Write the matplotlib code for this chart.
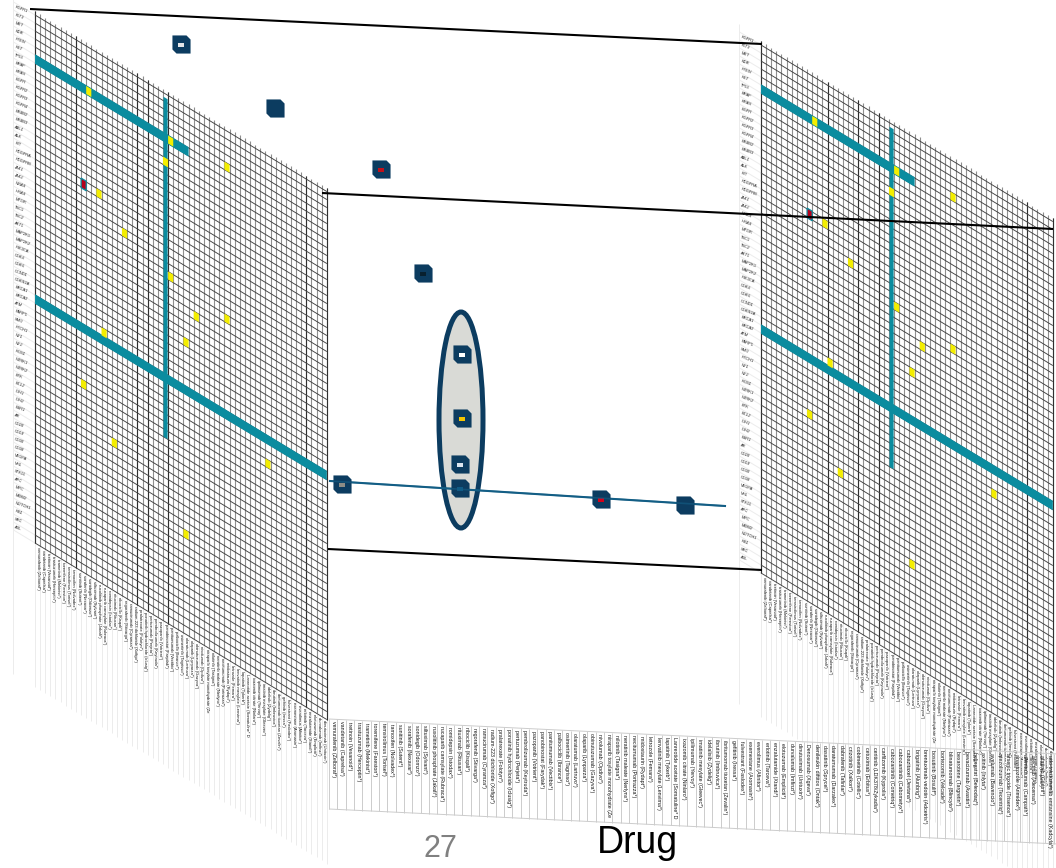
import matplotlib
matplotlib.use('Agg')
import matplotlib.pyplot as plt
from matplotlib.collections import LineCollection
from matplotlib.patches import Rectangle, Ellipse
from matplotlib.transforms import Affine2D

plt.rcParams['font.family'] = ['Liberation Sans', 'DejaVu Sans']

# drug names, as they stand on the front sheet from left to right
drugs = ['vemurafenib (Zelboraf*)', 'vandetanib (Caprelsa*)', 'tretinoin (Vesanoid*)', 'trastuzumab (Herceptin*)',
         'trametinib (Mekinist*)', 'toremifene (Fareston*)', 'temsirolimus (Torisel*)', 'tamoxifen (Nolvadex*)',
         'sunitinib (Sutent*)', 'sorafenib (Nexavar*)', 'sonidegib (Odomzo*)', 'siltuximab (Sylvant*)',
         'ruxolitinib phosphate (Jakafi*)', 'rucaparib camsylate (Rubraca*)', 'romidepsin (Istodax*)',
         'rituximab (Rituxan*)', 'ribociclib (Kisqali*)', 'regorafenib (Stivarga*)', 'ramucirumab (Cyramza*)',
         'radium-223 dichloride (Xofigo*)', 'pralatrexate (Folotyn*)', 'ponatinib hydrochloride (Iclusig*)',
         'pertuzumab (Perjeta*)', 'pembrolizumab (Keytruda*)', 'pazopanib (Votrient*)', 'panobinostat (Farydak*)',
         'panitumumab (Vectibix*)', 'palbociclib (Ibrance*)', 'osimertinib (Tagrisso*)', 'olaratumab (Lartruvo*)',
         'olaparib (Lynparza*)', 'obinutuzumab (Gazyva*)', 'nivolumab (Opdivo*)',
         'niraparib tosylate monohydrate (Ze', 'nilotinib (Tasigna*)', 'neratinib maleate (Nerlynx*)',
         'necitumumab (Portrazza*)', 'midostaurin (Rydapt*)', 'letrozole (Femara*)', 'lenvatinib mesylate (Lenvima*)',
         'lapatinib (Tykerb*)', 'Lanreotide acetate (Somatuline* D', 'ixazomib citrate (Ninlaro*)',
         'ipilimumab (Yervoy*)', 'imatinib mesylate (Gleevec*)', 'idelalisib (Zydelig*)', 'ibrutinib (Imbruvica*)',
         'ibritumomab tiuxetan (Zevalin*)', 'gefitinib (Iressa*)', 'fulvestrant (Faslodex*)', 'exemestane (Aromasin*)',
         'everolimus (Afinitor*)', 'erlotinib (Tarceva*)', 'enzalutamide (Xtandi*)', 'elotuzumab (Empliciti*)',
         'durvalumab (Imfinzi*)', 'dinutuximab (Unituxin*)', 'Denosumab (Xgeva*)', 'denileukin diftitox (Ontak*)',
         'dasatinib (Sprycel*)', 'daratumumab (Darzalex*)', 'dabrafenib (Tafinlar*)', 'crizotinib (Xalkori*)',
         'cobimetinib (Cotellic*)', 'cetuximab (Erbitux*)', 'ceritinib (LDK378/Zykadia*)', 'carfilzomib (Kyprolis*)',
         'cabozantinib (Cometriq*)', 'cabozantinib (Cabometyx*)', 'cabazitaxel (Jevtana*)', 'brigatinib (Alunbrig*)',
         'brentuximab vedotin (Adcetris*)', 'bosutinib (Bosulif*)', 'bortezomib (Velcade*)', 'blinatumomab (Blincyto*)',
         'bexarotene (Targretin*)', 'bevacizumab (Avastin*)', 'belinostat (Beleodaq*)', 'axitinib (Inlyta*)',
         'avelumab (Bavencio*)', 'atezolizumab (Tecentriq*)', 'arsenic trioxide (Trisenox*)', 'anastrozole (Arimidex*)',
         'alemtuzumab (Campath*)', 'alectinib (Alecensa*)', 'afatinib (Gilotrif*)',
         'ado-trastuzumab emtansine (Kadcyla*)', 'abiraterone acetate (Zytiga*)']

# row labels of the matrix, too small in the picture to read for sure
targets = ['FGFR1', 'FLT3', 'MET', 'KDR', 'PTEN', 'RET', 'TP53', 'BRAF', 'KRAS', 'EGFR', 'FGFR2', 'FGFR3', 'FGFR4',
           'ERBB2', 'ERBB3', 'ABL1', 'ALK', 'KIT', 'PDGFRA', 'PDGFRB', 'JAK1', 'JAK2', 'NRAS', 'HRAS', 'MTOR', 'TSC1',
           'TSC2', 'AKT1', 'MAP2K1', 'MAP2K2', 'PIK3CA', 'CDK4', 'CDK6', 'CCND1', 'CDKN2A', 'BRCA1', 'BRCA2', 'ATM',
           'PARP1', 'SMO', 'PTCH1', 'NF1', 'NF2', 'ROS1', 'NTRK1', 'NTRK2', 'BTK', 'BCL2', 'IDH1', 'IDH2', 'ESR1', 'AR',
           'CD20', 'CD19', 'CD30', 'CD38', 'VEGFA', 'VHL', 'STK11', 'APC', 'MYC', 'MDM2', 'NOTCH1', 'RB1', 'SRC', 'AXL']

# matrix cells that are filled (row, column)
yellow_rows = [5, 8, 5, 4, 17, 20, 22, 25, 23, 29, 34, 42, 47, 38, 53]
yellow_cols = [10, 25, 26, 37, 12, 17, 26, 31, 37, 29, 13, 9, 15, 45, 29]
red_rows = [17]
red_cols = [9]

# highlighted rows and column of the matrix: index, first, last
band_rows = [5, 35]
band_row_start = [0, 0]
band_row_end = [30, 57]
band_cols = [25]
band_col_start = [0.5]
band_col_end = [43]

# column lines that come out dark in each sheet
dark_cols_left = [0, 8, 20, 22, 26, 53, 57]
dark_cols_right = [0, 13, 19, 23, 52, 57]

# nodes in the white middle of the picture
node_x = [181, 275, 381, 423, 462, 462, 460, 460, 342, 601, 685]
node_y = [44, 108, 169, 273, 354, 418, 464, 488, 484, 499, 505]
node_inner = ['#e4e6e8', '#0c3c60', '#c0101a', '#08202f', '#ffffff', '#f5c400', '#dce6f0', '#0f5a85', '#8c8c86',
              '#d4001a', '#0c3c60']

# lines between the two sheets
link_x = [[30, 762], [322, 1053], [328, 762]]
link_y = [[9, 44], [193, 229], [549, 570]]
path_x = [330, 725]
path_y = [481, 506]

n_cols = 57
n_rows = len(targets)
DX = 5.12
DY = 8.0
SLOPE = 0.605

NAVY = '#0c3c60'
TEAL = '#0b8c9f'

fig = plt.figure(figsize=(10.56, 8.68), dpi=100)
ax = fig.add_axes([0, 0, 1, 1])
ax.set_xlim(0, 1056)
ax.set_ylim(868, 0)
ax.axis('off')


def draw_sheet(x0, y0, dark_cols):
    # cell coordinates (col, row) to pixels, sheared
    tr = Affine2D.from_values(DX, DX * SLOPE, 0, DY, x0, y0) + ax.transData

    # faint lines: column drops, row label rules
    drops = [[(c, n_rows), (c, n_rows + 18)] for c in range(n_cols + 1)]
    drops += [[(-4.2, r), (0, r)] for r in range(n_rows + 1)]
    drops += [[(-4.2, -1), (-4.2, n_rows + 18)]]
    ax.add_collection(LineCollection(drops, colors='#ececec', linewidths=0.7, transform=tr, zorder=1))

    # grid: columns come out grey, with some dark ones, rows dark
    cols = [[(c, -0.45), (c, n_rows)] for c in range(n_cols + 1)]
    ax.add_collection(LineCollection(cols, colors='#8e8e8e', linewidths=0.8, transform=tr, zorder=1.5))
    dark = [[(c, -0.45), (c, n_rows)] for c in dark_cols]
    ax.add_collection(LineCollection(dark, colors='#303030', linewidths=0.8, transform=tr, zorder=2))
    rows = [[(0, r), (n_cols, r)] for r in range(n_rows + 1)]
    ax.add_collection(LineCollection(rows, colors='#404040', linewidths=0.65, transform=tr, zorder=2))

    # highlighted rows and column
    for r, a, b in zip(band_rows, band_row_start, band_row_end):
        ax.add_patch(Rectangle((a, r - 0.1), b - a, 1.2, fc=TEAL, ec='none', transform=tr, zorder=3))
    for c, a, b in zip(band_cols, band_col_start, band_col_end):
        ax.add_patch(Rectangle((c + 0.1, a), 0.8, b - a, fc=TEAL, ec='none', transform=tr, zorder=3))

    # filled cells
    for r, c in zip(yellow_rows, yellow_cols):
        ax.add_patch(Rectangle((c, r), 1, 1, fc='#f4ee00', ec='none', transform=tr, zorder=4))
    for r, c in zip(red_rows, red_cols):
        ax.add_patch(Rectangle((c, r - 0.1), 1, 1.2, fc='#b5001c', ec=TEAL, lw=0.9, transform=tr, zorder=4))

    # labels
    for c, name in enumerate(drugs[:n_cols]):
        ax.text(c + 0.5, n_rows + 0.3, name, transform=tr, rotation=270, ha='center', va='top',
                fontsize=3.0, color='#111111', zorder=5)
    for r, name in enumerate(targets):
        ax.text(-4.0, r + 0.5, name, transform=tr, rotation=-20, ha='left', va='center',
                rotation_mode='anchor', fontsize=2.9, color='#222222', zorder=5)


draw_sheet(35, 15, dark_cols_left)
draw_sheet(761, 45, dark_cols_right)

# front sheet with the drug names
front = Affine2D.from_values(8.33, 8.33 * 0.048, 0, 90, 329, 719) + ax.transData
front_lines = [[(c, 0), (c, 1)] for c in range(len(drugs) + 1)]
front_lines += [[(0, 0), (len(drugs), 0)], [(0, 1), (len(drugs), 1)]]
ax.add_collection(LineCollection(front_lines, colors='#cccccc', linewidths=0.7, transform=front, zorder=6))
for c, name in enumerate(drugs):
    t = ax.text(c + 0.5, 0.02, name, transform=front, rotation=270, ha='center', va='top',
                fontsize=3.8, color='#111111', zorder=6)
    t.set_clip_path(Rectangle((c, 0), 1, 1, transform=front))

# lines across
for xs, ys in zip(link_x, link_y):
    ax.plot(xs, ys, color='black', lw=1.5, zorder=7, solid_capstyle='butt')

# group oval and path
ax.add_patch(Ellipse((461, 420), 44, 216, fc='#d9dad6', ec=NAVY, lw=3.6, zorder=8))
ax.plot(path_x, path_y, color='#135e85', lw=1.5, zorder=9)

# marker is drawn in screen sense, y up
chamfer = [(-1, 1), (0.55, 1), (1, 0.55), (1, -1), (-0.55, -1), (-1, -0.55), (-1, 1)]
inner = [(-1, -0.65), (1, -0.65), (1, 0.65), (-1, 0.65), (-1, -0.65)]
ax.scatter(node_x, node_y, s=170, marker=chamfer, c=NAVY, linewidths=0, zorder=10)
ax.scatter(node_x, [y + 1 for y in node_y], s=14, marker=inner, c=node_inner, linewidths=0, zorder=11)
# the path runs on top of the node on the oval
ax.plot(path_x, path_y, color='#135e85', lw=1.2, alpha=0.6, zorder=12)

ax.text(440, 849, '27', fontsize=22, color='#808080', ha='center', va='center', zorder=13)
ax.text(637, 843, 'Drug', fontsize=27, color='black', ha='center', va='center', zorder=13)

fig.savefig('out.png', dpi=100, facecolor='white')
